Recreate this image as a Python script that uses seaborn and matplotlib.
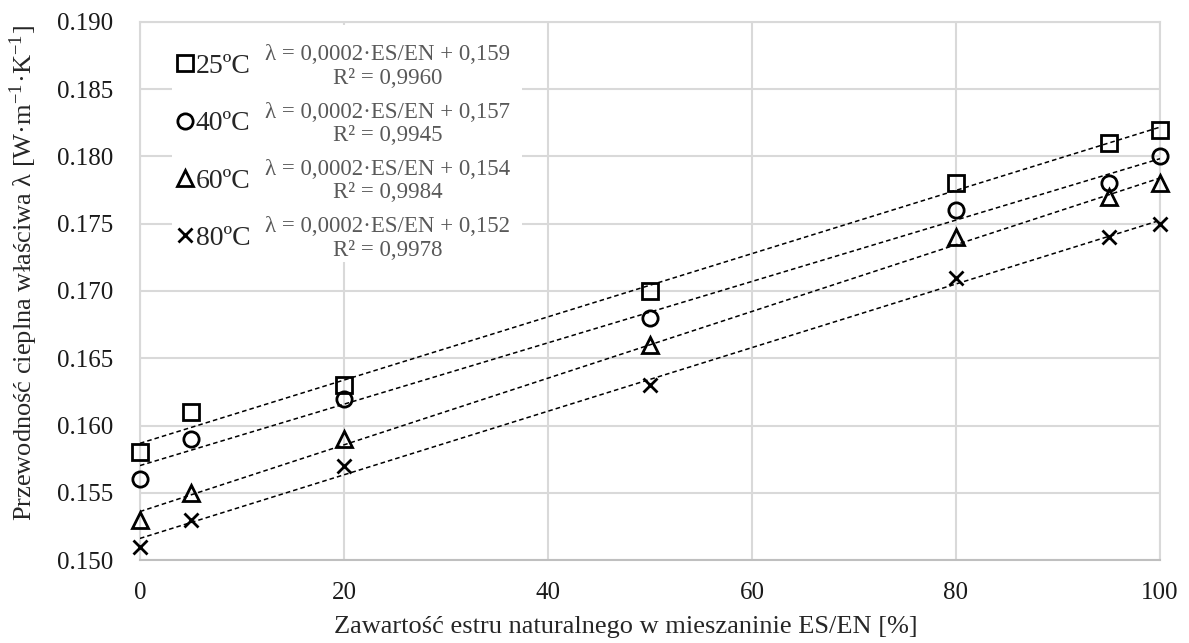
import numpy as np
import pandas as pd
import matplotlib
matplotlib.use("Agg")
import matplotlib.pyplot as plt
import seaborn as sns
from matplotlib.lines import Line2D
from matplotlib.patches import Rectangle

# measured data: ES/EN content vs thermal conductivity at 4 temperatures
es_content = [0, 5, 20, 50, 80, 95, 100]
lam_25 = [0.158, 0.161, 0.163, 0.170, 0.178, 0.181, 0.182]
lam_40 = [0.156, 0.159, 0.162, 0.168, 0.176, 0.178, 0.180]
lam_60 = [0.153, 0.155, 0.159, 0.166, 0.174, 0.177, 0.178]
lam_80 = [0.151, 0.153, 0.157, 0.163, 0.171, 0.174, 0.175]

temps = ["25ºC", "40ºC", "60ºC", "80ºC"]
equations = [
    "λ = 0,0002·ES/EN + 0,159\nR² = 0,9960",
    "λ = 0,0002·ES/EN + 0,157\nR² = 0,9945",
    "λ = 0,0002·ES/EN + 0,154\nR² = 0,9984",
    "λ = 0,0002·ES/EN + 0,152\nR² = 0,9978",
]
x_ticks = [0, 20, 40, 60, 80, 100]
y_ticks = [0.150, 0.155, 0.160, 0.165, 0.170, 0.175, 0.180, 0.185, 0.190]

sns.set_style("white")
plt.rcParams["font.family"] = ["Liberation Serif", "DejaVu Serif"]
plt.rcParams["mathtext.fontset"] = "stix"

series = [lam_25, lam_40, lam_60, lam_80]
markers = ["s", "o", "^", "x"]

fig = plt.figure(figsize=(11.89, 6.43), dpi=100)
ax = fig.add_axes([0.1177, 0.129, 0.8579, 0.8369])

grid_col = "#d9d9d9"
for y_val, m in zip(series, markers):
    df = pd.DataFrame({"x": es_content, "y": y_val})
    # dashed linear trendline
    sns.regplot(data=df, x="x", y="y", ax=ax, scatter=False, ci=None,
                line_kws={"color": "black", "lw": 1.1, "ls": (0, (3, 2)), "zorder": 3})
    sns.lineplot(data=df, x="x", y="y", ax=ax, marker=m, linestyle="",
                 markersize=11 if m != "x" else 10, markerfacecolor="none",
                 markeredgecolor="black", markeredgewidth=2, color="black",
                 zorder=4, errorbar=None, clip_on=False)

ax.set_xlim(0, 100)
ax.set_ylim(0.150, 0.190)
ax.set_xticks(x_ticks)
ax.set_yticks(y_ticks)
ax.set_yticklabels([f"{v:.3f}" for v in y_ticks])
ax.grid(True, color=grid_col, lw=1.5)
ax.set_axisbelow(True)
for s in ["top", "right", "left"]:
    ax.spines[s].set_color(grid_col)
    ax.spines[s].set_linewidth(1.5)
ax.spines["bottom"].set_color("#bfbfbf")
ax.spines["bottom"].set_linewidth(1.5)
ax.tick_params(axis="x", length=0, pad=16, labelsize=18, colors="#1a1a1a")
ax.tick_params(axis="y", length=0, pad=19, labelsize=18, colors="#1a1a1a")

ax.set_xlabel("Zawartość estru naturalnego w mieszaninie ES/EN [%]", fontsize=19)
ax.set_ylabel(r"Przewodność cieplna właściwa λ [W·m$^{\mathregular{-1}}$·K$^{\mathregular{-1}}$]",
              fontsize=19)
ax.xaxis.set_label_coords(626 / 1189, 1 - 616 / 643, transform=fig.transFigure)
ax.yaxis.set_label_coords(40 / 1189, 1 - 273 / 643, transform=fig.transFigure)

# white box behind legend + equations
bx0 = (172 - 140) / (1160 - 140)
bx1 = (522 - 140) / (1160 - 140)
by0 = (560 - 262) / (560 - 22)
ax.add_patch(Rectangle((bx0, by0), bx1 - bx0, 1 - by0 - 0.006, transform=ax.transAxes,
                       facecolor="white", edgecolor="none", zorder=2.5))

handles = [Line2D([], [], marker=m, linestyle="", markersize=11 if m != "x" else 10,
                  markerfacecolor="none", markeredgecolor="black", markeredgewidth=2)
           for m in markers]
leg = ax.legend(handles, temps, loc="upper left", bbox_to_anchor=(0.024, 0.962),
                frameon=False, fontsize=20, handlelength=0.7, handletextpad=0.02,
                labelspacing=1.15, borderaxespad=0)
leg.set_zorder(5)

fig.canvas.draw()
inv = ax.transAxes.inverted()
for txt, eq in zip(leg.get_texts(), equations):
    bb = txt.get_window_extent()
    yc = inv.transform((0, (bb.y0 + bb.y1) / 2))[1]
    ax.text((388 - 140) / (1160 - 140), yc, eq, transform=ax.transAxes, ha="center",
            va="center", fontsize=16.5, color="#595959", linespacing=1.15, zorder=6)

fig.savefig("out.png", dpi=100)
